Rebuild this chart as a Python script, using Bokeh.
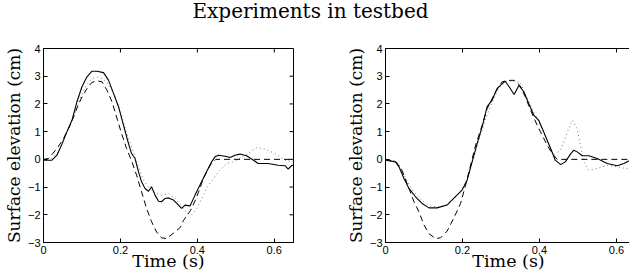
import math
from bokeh.plotting import figure
from bokeh.layouts import column, row
from bokeh.models import Div, FixedTicker, Range1d
from bokeh.embed import file_html
from bokeh.resources import INLINE

# ---------------- data ----------------
x_ticks = [0, 0.2, 0.4, 0.6]
x_tick_labels = {0: "0", 0.2: "0.2", 0.4: "0.4", 0.6: "0.6"}
y_ticks = [-3, -2, -1, 0, 1, 2, 3, 4]
y_tick_labels = {-3: "\u22123", -2: "\u22122", -1: "\u22121", 0: "0", 1: "1", 2: "2", 3: "3", 4: "4"}

title_text = "Experiments in testbed"
x_label = "Time (s)"
y_label = "Surface elevation (cm)"

# left panel
l_solid_t = [0, 0.022, 0.035, 0.048, 0.061, 0.074, 0.087, 0.1, 0.113, 0.126, 0.139, 0.156, 0.169, 0.182,
             0.195, 0.208, 0.221, 0.229, 0.238, 0.247, 0.255, 0.264, 0.273, 0.281, 0.29, 0.299, 0.307, 0.316,
             0.325, 0.338, 0.351, 0.359, 0.368, 0.381, 0.394, 0.411, 0.424, 0.437, 0.446, 0.455, 0.472, 0.485,
             0.498, 0.511, 0.528, 0.546, 0.558, 0.584, 0.61, 0.628, 0.636, 0.645, 0.65]
l_solid_v = [-0.03, -0.03, 0.15, 0.55, 1.0, 1.41, 2.08, 2.62, 2.98, 3.18, 3.18, 3.13, 2.86, 2.38,
             1.9, 1.23, 0.57, 0.21, 0.03, -0.45, -0.81, -1.05, -1.15, -0.99, -1.29, -1.51, -1.53, -1.41,
             -1.39, -1.47, -1.65, -1.77, -1.65, -1.68, -1.29, -0.81, -0.45, -0.09, 0.09, 0.15, 0.11, 0.07,
             0.15, 0.19, 0.13, -0.03, -0.15, -0.15, -0.21, -0.23, -0.35, -0.23, -0.2]

l_dash_t = [0, 0.013, 0.035, 0.05, 0.07, 0.09, 0.1, 0.113, 0.126, 0.139, 0.152, 0.165, 0.178, 0.19, 0.203,
            0.216, 0.23, 0.242, 0.255, 0.268, 0.281, 0.294, 0.307, 0.32, 0.342, 0.356, 0.364, 0.382, 0.394,
            0.408, 0.415, 0.434, 0.448, 0.65]
l_dash_v = [0, 0.03, 0.39, 0.7, 1.25, 1.95, 2.25, 2.55, 2.78, 2.83, 2.8, 2.5, 2.08, 1.53, 0.93,
            0.39, -0.09, -0.57, -1.17, -1.77, -2.25, -2.62, -2.83, -2.86, -2.62, -2.45, -2.2, -1.85, -1.5,
            -1.0, -0.7, -0.2, 0, 0]

l_dot_t = [0, 0.02, 0.035, 0.05, 0.065, 0.08, 0.095, 0.11, 0.125, 0.14, 0.155, 0.17, 0.185, 0.2, 0.215,
           0.23, 0.245, 0.26, 0.275, 0.29, 0.305, 0.325, 0.342, 0.36, 0.373, 0.385, 0.4, 0.415, 0.429,
           0.455, 0.476, 0.498, 0.524, 0.554, 0.576, 0.602, 0.628, 0.65]
l_dot_v = [0, 0.02, 0.2, 0.6, 1.1, 1.6, 2.2, 2.65, 2.9, 2.97, 2.9, 2.7, 2.3, 1.75, 1.0,
           0.4, -0.2, -0.75, -1.05, -1.2, -1.3, -1.23, -1.41, -1.7, -1.95, -2.0, -1.75, -1.3, -0.93,
           -0.45, -0.15, -0.07, 0.15, 0.42, 0.37, 0.21, -0.03, -0.09]

# right panel
r_solid_t = [0, 0.026, 0.035, 0.048, 0.061, 0.078, 0.095, 0.113, 0.134, 0.16, 0.177, 0.199, 0.212, 0.225,
             0.238, 0.251, 0.264, 0.277, 0.29, 0.311, 0.322, 0.334, 0.347, 0.359, 0.372, 0.385, 0.398, 0.411,
             0.429, 0.441, 0.455, 0.467, 0.48, 0.489, 0.498, 0.511, 0.528, 0.55, 0.576, 0.602, 0.619, 0.636,
             0.65]
r_solid_v = [-0.03, -0.09, -0.27, -0.69, -1.05, -1.35, -1.59, -1.75, -1.75, -1.65, -1.41, -1.11, -0.75, -0.09,
             0.57, 1.17, 1.9, 2.14, 2.56, 2.82, 2.6, 2.34, 2.67, 2.44, 2.02, 1.6, 1.41, 0.99,
             0.39, -0.03, -0.19, -0.09, 0.18, 0.33, 0.27, 0.13, 0.13, 0.03, -0.15, -0.23, -0.15, -0.03,
             0.05]

r_dash_t = [0, 0.026, 0.04, 0.061, 0.074, 0.087, 0.1, 0.113, 0.13, 0.143, 0.16, 0.177, 0.195, 0.208, 0.221,
            0.234, 0.251, 0.264, 0.286, 0.303, 0.32, 0.335, 0.35, 0.363, 0.377, 0.394, 0.407, 0.42, 0.433,
            0.446, 0.65]
r_dash_v = [0, -0.09, -0.3, -1.05, -1.53, -1.9, -2.37, -2.68, -2.86, -2.83, -2.59, -2.13, -1.59, -0.93, -0.21,
            0.51, 1.23, 1.83, 2.44, 2.8, 2.85, 2.85, 2.65, 2.26, 1.77, 1.23, 0.87, 0.51, 0.21,
            0.0, 0.0]

r_dot_t = [0, 0.026, 0.04, 0.055, 0.07, 0.085, 0.1, 0.12, 0.14, 0.16, 0.18, 0.2, 0.215, 0.23, 0.245,
           0.26, 0.275, 0.29, 0.305, 0.32, 0.335, 0.35, 0.365, 0.38, 0.395, 0.41, 0.425, 0.437, 0.455,
           0.463, 0.476, 0.485, 0.498, 0.506, 0.515, 0.528, 0.55, 0.576, 0.602, 0.624, 0.65]
r_dot_v = [0, -0.05, -0.3, -0.75, -1.1, -1.35, -1.55, -1.7, -1.72, -1.6, -1.4, -1.05, -0.6, 0.1, 0.8,
           1.45, 2.0, 2.45, 2.75, 2.83, 2.8, 2.78, 2.3, 1.85, 1.45, 1.0, 0.5, 0.15, 0.33,
           0.63, 1.11, 1.41, 1.11, 0.51, -0.09, -0.39, -0.33, -0.21, -0.27, -0.33, -0.28]

# ---------------- styling ----------------
SERIF = "DejaVu Serif"
SANS = "Liberation Sans"
DOT_COLOR = "#7a7a7a"
Y_MIN, Y_MAX = -3, 4


def style_axis(ax, labels):
    ax.major_tick_in = 4
    ax.major_tick_out = 0
    ax.minor_tick_in = 0
    ax.minor_tick_out = 0
    ax.axis_line_color = "black"
    ax.major_tick_line_color = "black"
    ax.major_label_overrides = labels
    ax.major_label_text_font = SANS
    ax.major_label_text_font_size = "11px"
    ax.major_label_text_color = "black"
    ax.major_label_standoff = 3


def make_panel(st, sv, dt, dv, ot, ov, x_end, fw, right_ticks, min_right):
    p = figure(frame_width=fw, frame_height=194,
               x_range=Range1d(0, x_end), y_range=Range1d(Y_MIN, Y_MAX),
               output_backend="svg", toolbar_location=None,
               min_border_left=35, min_border_right=min_right,
               min_border_top=26, min_border_bottom=0)
    p.outline_line_color = "black"
    p.outline_line_width = 1
    p.outline_line_alpha = 1
    p.grid.visible = False
    p.background_fill_color = "white"
    p.border_fill_color = "white"

    p.xaxis.ticker = FixedTicker(ticks=x_ticks)
    p.yaxis.ticker = FixedTicker(ticks=y_ticks)
    style_axis(p.xaxis[0], x_tick_labels)
    style_axis(p.yaxis[0], y_tick_labels)
    p.xaxis.axis_label = x_label
    p.yaxis.axis_label = y_label
    p.xaxis.axis_label_text_font = SERIF
    p.yaxis.axis_label_text_font = SERIF
    p.xaxis.axis_label_text_font_size = "17.5px"
    p.yaxis.axis_label_text_font_size = "17px"
    p.xaxis.axis_label_text_font_style = "normal"
    p.yaxis.axis_label_text_font_style = "normal"
    p.xaxis.axis_label_text_color = "black"
    p.yaxis.axis_label_text_color = "black"
    p.xaxis.axis_label_standoff = -6
    p.yaxis.axis_label_standoff = 1

    # inward ticks on the top edge (and right edge), drawn from the tick lists
    p.ray(x=x_ticks, y=[Y_MAX] * len(x_ticks), length=4, length_units="screen",
          angle=-math.pi / 2, line_color="black", line_width=1)
    if right_ticks:
        p.ray(x=[x_end] * len(y_ticks), y=y_ticks, length=4, length_units="screen",
              angle=math.pi, line_color="black", line_width=1)

    p.line(ot, ov, line_color=DOT_COLOR, line_width=1, line_dash="1 3")
    p.line(dt, dv, line_color="black", line_width=1, line_dash="6 4")
    p.line(st, sv, line_color="black", line_width=1.1)
    return p


p1 = make_panel(l_solid_t, l_solid_v, l_dash_t, l_dash_v, l_dot_t, l_dot_v,
                0.65, 250, True, 49)
p2 = make_panel(r_solid_t, r_solid_v, r_dash_t, r_dash_v, r_dot_t, r_dot_v,
                0.639, 246, False, 0)

title = Div(text=('<div style="font-family: \'DejaVu Serif\'; font-size: 20px; line-height: 22px; '
                  'text-align: center; width: 621px; color: black;">' + title_text + '</div>'),
            width=621, height=22, margin=0)

layout = column(title, row(p1, p2, spacing=0), spacing=0)
open("out.html", "w").write(file_html(layout, INLINE))
